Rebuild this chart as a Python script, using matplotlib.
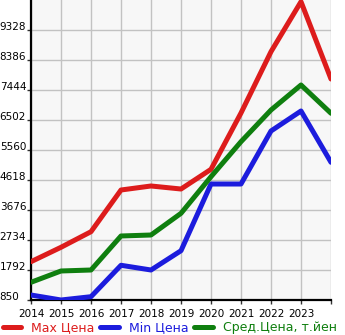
import matplotlib
matplotlib.use("Agg")
import matplotlib.pyplot as plt
from matplotlib.lines import Line2D

years = [2014, 2015, 2016, 2017, 2018, 2019, 2020, 2021, 2022, 2023, 2024]
max_price = [2053, 2505, 2995, 4304, 4430, 4335, 4954, 6722, 8647, 10217, 7789]
min_price = [1007, 850, 954, 1940, 1792, 2398, 4492, 4492, 6157, 6785, 5174]
avg_price = [1406, 1761, 1792, 2860, 2891, 3572, 4722, 5821, 6816, 7601, 6713]

y_ticks = [850, 1792, 2734, 3676, 4618, 5560, 6502, 7444, 8386, 9328]
x_ticks = list(range(2014, 2025))
x_labels = [str(y) for y in range(2014, 2024)] + [""]

labels = ["Max Цена", "Min Цена", "Сред.Цена, т.йен"]
colors = ["#dd1c1c", "#1c1cdd", "#0f7f0f"]

W, H = 345, 335
fig = plt.figure(figsize=(W / 100, H / 100), dpi=100)
ax = fig.add_axes([31 / W, 35 / H, 300 / W, 300 / H])
ax.set_facecolor("#f7f7f7")

for series, color in zip([max_price, min_price, avg_price], colors):
    ax.plot(years, series, color=color, lw=3.6, solid_capstyle="round",
            solid_joinstyle="round", zorder=3)

ax.set_xlim(2014, 2024)
ax.set_ylim(850, 10270)
ax.set_xticks(x_ticks)
ax.set_xticklabels(x_labels, fontsize=7.5)
ax.set_yticks(y_ticks)
ax.set_yticklabels([str(v) for v in y_ticks], fontsize=7.5)
ax.grid(True, color="#c2c2c2", lw=1)
ax.set_axisbelow(True)

for side in ["top", "right"]:
    ax.spines[side].set_visible(False)
for side in ["left", "bottom"]:
    ax.spines[side].set_color("black")
    ax.spines[side].set_linewidth(1.6)

ax.tick_params(axis="x", length=3, width=1, color="#333333", pad=3.5)
ax.tick_params(axis="y", length=3, width=1, color="#333333", pad=19.5)
for lbl in ax.get_yticklabels():
    lbl.set_horizontalalignment("left")
    lbl.set_verticalalignment("baseline")

handles = [Line2D([0], [0], color=c, lw=3.6, solid_capstyle="round") for c in colors]
leg = fig.legend(handles, labels, loc="lower left", bbox_to_anchor=(2.5 / W, 1 / H),
                 ncol=3, frameon=False, fontsize=9, handlelength=1.5,
                 handletextpad=0.8, columnspacing=0.45, borderpad=0,
                 borderaxespad=0)
for text, c in zip(leg.get_texts(), colors):
    text.set_color(c)

fig.savefig("out.png", dpi=100)
